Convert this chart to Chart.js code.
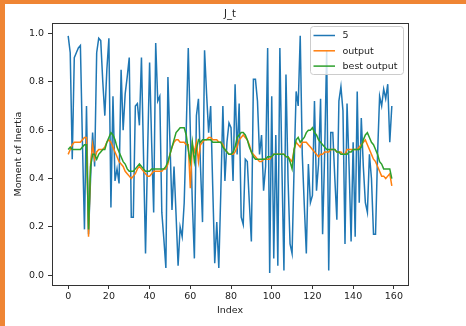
<!DOCTYPE html>
<html>
<head>
<meta charset="utf-8">
<script src="https://cdn.jsdelivr.net/npm/chart.js@4.4.0/dist/chart.umd.min.js"></script>
<style>
    html, body { margin: 0; padding: 0; background: #ffffff; overflow: hidden; }
    .frame-left { position: absolute; left: 0; top: 0; width: 5px; height: 326px; background: #ef8534; }
    .frame-top { position: absolute; left: 0; top: 0; width: 466px; height: 4px; background: #ef8534; }
    #chart { position: absolute; left: 0; top: 0; }
</style>
</head>
<body>
<canvas id="chart" width="466" height="326"></canvas>
<div class="frame-left"></div>
<div class="frame-top"></div>
<script>
const seriesNames = ['5', 'output', 'best output'];
const seriesColors = ['#1f77b4', '#ff7f0e', '#2ca02c'];
const xTicks = [0, 20, 40, 60, 80, 100, 120, 140, 160];
const yTicks = [0.0, 0.2, 0.4, 0.6, 0.8, 1.0];

const inputValues = [
    0.99, 0.92, 0.48, 0.90, 0.92, 0.94, 0.95, 0.55, 0.19, 0.70,
    0.17, 0.40, 0.59, 0.45, 0.92, 0.98, 0.97, 0.80, 0.66, 0.85,
    0.98, 0.28, 0.74, 0.39, 0.44, 0.38, 0.85, 0.60, 0.75, 0.82,
    0.90, 0.24, 0.24, 0.70, 0.71, 0.62, 0.90, 0.50, 0.09, 0.50,
    0.88, 0.55, 0.26, 0.96, 0.72, 0.74, 0.26, 0.15, 0.03, 0.82,
    0.55, 0.27, 0.45, 0.25, 0.04, 0.20, 0.16, 0.30, 0.60, 0.94,
    0.60, 0.30, 0.07, 0.66, 0.73, 0.45, 0.22, 0.93, 0.75, 0.59,
    0.70, 0.37, 0.05, 0.22, 0.03, 0.35, 0.70, 0.39, 0.55, 0.63,
    0.61, 0.39, 0.79, 0.50, 0.71, 0.24, 0.21, 0.48, 0.47, 0.30,
    0.14, 0.81, 0.81, 0.72, 0.50, 0.58, 0.35, 0.45, 0.94, 0.01,
    0.74, 0.07, 0.58, 0.04, 0.94, 0.45, 0.02, 0.83, 0.40, 0.13,
    0.09, 0.45, 0.76, 0.70, 0.99, 0.50, 0.29, 0.09, 0.46, 0.30,
    0.33, 0.72, 0.35, 0.46, 0.73, 0.17, 0.50, 0.93, 0.02, 0.59,
    0.59, 0.40, 0.23, 0.72, 0.78, 0.68, 0.13, 0.71, 0.45, 0.14,
    0.55, 0.16, 0.76, 0.30, 0.65, 0.45, 0.30, 0.26, 0.50, 0.40,
    0.17, 0.17, 0.50, 0.74, 0.70, 0.77, 0.73, 0.79, 0.55, 0.70
];

const outputValues = [
    0.50, 0.52, 0.54, 0.55, 0.55, 0.55, 0.55, 0.56, 0.57, 0.57,
    0.16, 0.46, 0.54, 0.48, 0.51, 0.52, 0.52, 0.52, 0.53, 0.55,
    0.56, 0.55, 0.53, 0.51, 0.49, 0.47, 0.46, 0.45, 0.43, 0.42,
    0.41, 0.40, 0.41, 0.42, 0.44, 0.45, 0.44, 0.43, 0.42, 0.41,
    0.41, 0.42, 0.43, 0.43, 0.43, 0.43, 0.43, 0.44, 0.44, 0.46,
    0.50, 0.53, 0.55, 0.56, 0.56, 0.55, 0.55, 0.55, 0.54, 0.54,
    0.36, 0.54, 0.51, 0.55, 0.47, 0.54, 0.55, 0.56, 0.56, 0.57,
    0.57, 0.56, 0.56, 0.56, 0.55, 0.55, 0.54, 0.52, 0.51, 0.50,
    0.50, 0.50, 0.51, 0.53, 0.56, 0.57, 0.58, 0.57, 0.56, 0.54,
    0.51, 0.50, 0.49, 0.48, 0.47, 0.47, 0.48, 0.48, 0.48, 0.48,
    0.49, 0.50, 0.50, 0.50, 0.50, 0.50, 0.50, 0.49, 0.49, 0.48,
    0.47, 0.52, 0.55, 0.54, 0.53, 0.55, 0.55, 0.55, 0.54, 0.53,
    0.52, 0.51, 0.50, 0.49, 0.50, 0.50, 0.51, 0.51, 0.51, 0.52,
    0.52, 0.52, 0.51, 0.51, 0.51, 0.50, 0.50, 0.52, 0.52, 0.52,
    0.52, 0.52, 0.52, 0.53, 0.54, 0.55, 0.56, 0.54, 0.52, 0.50,
    0.48, 0.47, 0.45, 0.43, 0.41, 0.41, 0.40, 0.41, 0.42, 0.37
];

const bestOutputValues = [
    0.52, 0.53, 0.52, 0.52, 0.52, 0.52, 0.52, 0.53, 0.54, 0.54,
    0.19, 0.45, 0.50, 0.50, 0.48, 0.50, 0.51, 0.52, 0.52, 0.55,
    0.57, 0.59, 0.58, 0.56, 0.53, 0.51, 0.49, 0.47, 0.46, 0.44,
    0.43, 0.43, 0.43, 0.44, 0.45, 0.46, 0.45, 0.44, 0.43, 0.43,
    0.43, 0.44, 0.44, 0.44, 0.44, 0.44, 0.44, 0.44, 0.45, 0.47,
    0.50, 0.53, 0.56, 0.59, 0.60, 0.61, 0.61, 0.61, 0.58, 0.52,
    0.47, 0.55, 0.47, 0.52, 0.56, 0.55, 0.56, 0.56, 0.56, 0.56,
    0.56, 0.55, 0.55, 0.55, 0.55, 0.55, 0.53, 0.52, 0.51, 0.50,
    0.50, 0.51, 0.53, 0.57, 0.58, 0.59, 0.59, 0.58, 0.56, 0.53,
    0.51, 0.49, 0.48, 0.48, 0.48, 0.48, 0.48, 0.48, 0.49, 0.49,
    0.49, 0.50, 0.50, 0.50, 0.50, 0.50, 0.50, 0.49, 0.49, 0.47,
    0.44, 0.52, 0.56, 0.57, 0.55, 0.56, 0.57, 0.59, 0.60, 0.60,
    0.61, 0.59, 0.58, 0.56, 0.55, 0.54, 0.53, 0.52, 0.52, 0.52,
    0.52, 0.52, 0.51, 0.51, 0.50, 0.50, 0.50, 0.50, 0.51, 0.51,
    0.52, 0.52, 0.52, 0.52, 0.53, 0.56, 0.58, 0.59, 0.57, 0.55,
    0.54, 0.52, 0.50, 0.47, 0.46, 0.44, 0.44, 0.44, 0.44, 0.40
];

const FONT = '"DejaVu Sans", sans-serif';
const TEXT_COLOR = '#222222';
const AXIS_COLOR = '#333333';

const toPoints = values => values.map((v, i) => ({ x: i, y: v }));

// axes frame, title and legend drawn the way matplotlib lays them out
const framePlugin = {
    id: 'frame',
    afterDraw(chart) {
        const { ctx, chartArea } = chart;
        ctx.save();
        ctx.strokeStyle = AXIS_COLOR;
        ctx.lineWidth = 1;
        ctx.strokeRect(Math.round(chartArea.left) + 0.5, Math.round(chartArea.top) + 0.5,
            Math.round(chartArea.right - chartArea.left), Math.round(chartArea.bottom - chartArea.top));

        ctx.fillStyle = TEXT_COLOR;
        ctx.font = '10px ' + FONT;
        ctx.textAlign = 'center';
        ctx.textBaseline = 'middle';
        ctx.fillText('J_t', (chartArea.left + chartArea.right) / 2, 14);

        // legend
        const box = { x: 310.5, y: 26.5, w: 93, h: 48 };
        ctx.beginPath();
        ctx.roundRect(box.x, box.y, box.w, box.h, 3);
        ctx.fillStyle = 'rgba(255,255,255,0.8)';
        ctx.fill();
        ctx.strokeStyle = '#cccccc';
        ctx.stroke();

        ctx.font = '9.5px ' + FONT;
        ctx.textAlign = 'left';
        seriesNames.forEach((name, i) => {
            const y = 35.5 + i * 15.3;
            ctx.beginPath();
            ctx.moveTo(313.5, y);
            ctx.lineTo(335, y);
            ctx.strokeStyle = seriesColors[i];
            ctx.lineWidth = 1.5;
            ctx.stroke();
            ctx.fillStyle = TEXT_COLOR;
            ctx.fillText(name, 342.5, y + 0.5);
        });
        ctx.restore();
    }
};

const seriesData = [inputValues, outputValues, bestOutputValues];

new Chart(document.getElementById('chart'), {
    type: 'line',
    data: {
        datasets: seriesData.map((values, i) => ({
            label: seriesNames[i],
            data: toPoints(values),
            borderColor: seriesColors[i],
            backgroundColor: seriesColors[i],
            borderWidth: 1.5,
            pointRadius: 0,
            tension: 0,
            fill: false,
            order: seriesData.length - i
        }))
    },
    options: {
        responsive: false,
        animation: false,
        events: [],
        layout: { padding: { top: 23, right: 58, left: 0, bottom: 0 } },
        plugins: {
            legend: { display: false },
            title: { display: false },
            tooltip: { enabled: false }
        },
        scales: {
            x: {
                type: 'linear',
                min: -7.95,
                max: 166.95,
                afterBuildTicks: scale => { scale.ticks = xTicks.map(v => ({ value: v })); },
                afterFit: scale => { scale.height = 41; },
                grid: { drawOnChartArea: false, drawTicks: true, tickLength: 4, color: AXIS_COLOR },
                border: { display: false },
                ticks: { color: TEXT_COLOR, font: { family: FONT, size: 9.5 }, padding: 2, maxRotation: 0 },
                title: {
                    display: true, text: 'Index', color: TEXT_COLOR,
                    font: { family: FONT, size: 9.5, lineHeight: 1.2 },
                    padding: { top: 0, bottom: 10 }
                }
            },
            y: {
                type: 'linear',
                min: -0.04,
                max: 1.043,
                afterBuildTicks: scale => { scale.ticks = yTicks.map(v => ({ value: v })); },
                afterFit: scale => { scale.width = 52; },
                grid: { drawOnChartArea: false, drawTicks: true, tickLength: 4, color: AXIS_COLOR },
                border: { display: false },
                ticks: {
                    color: TEXT_COLOR, font: { family: FONT, size: 9.5 }, padding: 4,
                    callback: v => v.toFixed(1)
                },
                title: {
                    display: true, text: 'Moment of Inertia', color: TEXT_COLOR,
                    font: { family: FONT, size: 9.5, lineHeight: 1.2 },
                    padding: { top: 13, bottom: 0 }
                }
            }
        }
    },
    plugins: [framePlugin]
});
</script>
</body>
</html>
